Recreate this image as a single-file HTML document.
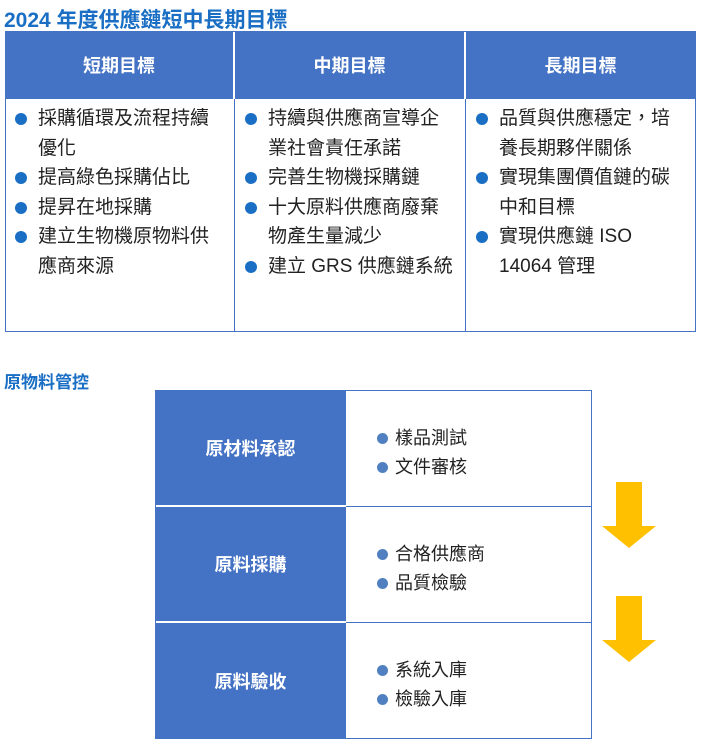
<!DOCTYPE html>
<html><head><meta charset="utf-8"><style>
body{margin:0;width:702px;height:745px;background:#fff;font-family:"Liberation Sans","Noto Sans CJK TC",sans-serif;position:relative;overflow:hidden}
.a{position:absolute}
.t{color:#1a6fc4;font-weight:bold}
.hd{background:#4472c4;color:#fff;font-weight:bold;font-size:18px;display:flex;align-items:center;justify-content:center}
ul{margin:0;padding:0;list-style:none}
li{position:relative;padding-left:33px;font-size:19px;line-height:29.5px;color:#222}
li:before{content:"";position:absolute;left:10px;top:9px;width:12px;height:12px;border-radius:50%;background:#1a6fc4}
.s li{padding-left:20px;font-size:18px;line-height:29px}
.s li:before{left:2px;top:9px;width:11px;height:11px;background:#5080c0}
</style></head><body>
<div class="a t" style="left:4px;top:4px;font-size:21px">2024 年度供應鏈短中長期目標</div>
<div class="a" style="left:5px;top:31px;width:689px;height:299px;border:1px solid #4472c4"></div>
<div class="a hd" style="left:5px;top:31px;width:228px;height:68px">短期目標</div>
<div class="a hd" style="left:235px;top:31px;width:229px;height:68px">中期目標</div>
<div class="a hd" style="left:466px;top:31px;width:229px;height:68px">長期目標</div>
<div class="a" style="left:234px;top:99px;width:1px;height:232px;background:#4472c4"></div>
<div class="a" style="left:465px;top:99px;width:1px;height:232px;background:#4472c4"></div>
<ul class="a" style="left:5px;top:104px;width:222px"><li>採購循環及流程持續優化</li><li>提高綠色採購佔比</li><li>提昇在地採購</li><li>建立生物機原物料供應商來源</li></ul>
<ul class="a" style="left:235px;top:104px;width:222px"><li>持續與供應商宣導企業社會責任承諾</li><li>完善生物機採購鏈</li><li>十大原料供應商廢棄物產生量減少</li><li>建立 GRS 供應鏈系統</li></ul>
<ul class="a" style="left:466px;top:104px;width:222px"><li>品質與供應穩定，培養長期夥伴關係</li><li>實現集團價值鏈的碳中和目標</li><li>實現供應鏈 ISO 14064 管理</li></ul>
<div class="a t" style="left:4px;top:368px;font-size:17px">原物料管控</div>
<div class="a" style="left:155px;top:390px;width:435px;height:347px;border:1px solid #4472c4"></div>
<div class="a hd" style="left:155px;top:390px;width:191px;height:115px">原材料承認</div>
<div class="a hd" style="left:155px;top:507px;width:191px;height:114px">原料採購</div>
<div class="a hd" style="left:155px;top:623px;width:191px;height:115px">原料驗收</div>
<div class="a" style="left:346px;top:506px;width:245px;height:1px;background:#4472c4"></div>
<div class="a" style="left:346px;top:622px;width:245px;height:1px;background:#4472c4"></div>
<ul class="a s" style="left:375px;top:424px"><li>樣品測試</li><li>文件審核</li></ul>
<ul class="a s" style="left:375px;top:540px"><li>合格供應商</li><li>品質檢驗</li></ul>
<ul class="a s" style="left:375px;top:656px"><li>系統入庫</li><li>檢驗入庫</li></ul>
<svg class="a" style="left:0;top:0" width="702" height="745"><polygon fill="#ffc000" points="616,482 642,482 642,526 656,526 629,548 602,526 616,526"/><polygon fill="#ffc000" points="616,596 642,596 642,640 656,640 629,662 602,640 616,640"/></svg>
</body></html>
